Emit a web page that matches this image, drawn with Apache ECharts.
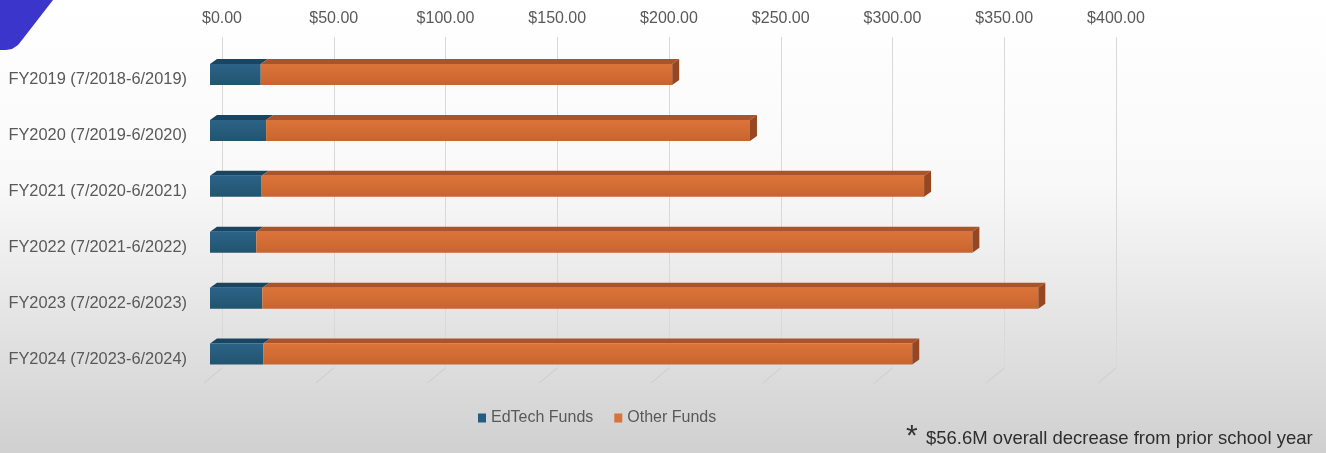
<!DOCTYPE html>
<html>
<head>
<meta charset="utf-8">
<script src="https://cdn.jsdelivr.net/npm/echarts@6/dist/echarts.min.js"></script>
<style>
  html, body { margin: 0; padding: 0; }
  #chart { width: 1326px; height: 453px; }
</style>
</head>
<body>
<div id="chart"></div>
<script>
  // data (millions of $)
  const categories = [
    'FY2019 (7/2018-6/2019)',
    'FY2020 (7/2019-6/2020)',
    'FY2021 (7/2020-6/2021)',
    'FY2022 (7/2021-6/2022)',
    'FY2023 (7/2022-6/2023)',
    'FY2024 (7/2023-6/2024)'
  ]
  const edtechFunds = [22.7, 25.1, 23.1, 20.7, 23.4, 23.8]
  const otherFunds = [184.1, 216.5, 296.4, 320.4, 347.2, 290.4]
  const xTicks = [0, 50, 100, 150, 200, 250, 300, 350, 400]
  const note = '$56.6M overall decrease from prior school year'

  const BAR_H = 21
  const DX = 7, DY = 5

  const edData = categories.map((c, i) => [0, edtechFunds[i], i])
  const otherData = categories.map((c, i) => [edtechFunds[i], edtechFunds[i] + otherFunds[i], i])

  // 3d box: front face, top face, right side face
  function boxItem(colors, withSide) {
    return function (params, api) {
      let p0 = api.coord([api.value(0), api.value(2)])
      let p1 = api.coord([api.value(1), api.value(2)])
      let x0 = p0[0], x1 = p1[0], y0 = p0[1] - BAR_H / 2, y1 = y0 + BAR_H
      let children = [
        {
          type: 'polygon',
          shape: {points: [[x0, y0], [x1, y0], [x1 + DX, y0 - DY], [x0 + DX, y0 - DY]]},
          style: {fill: colors.top}
        },
        {
          type: 'rect',
          shape: {x: x0, y: y0, width: x1 - x0, height: BAR_H},
          style: {
            fill: new echarts.graphic.LinearGradient(0, 0, 0, 1, [
              {offset: 0, color: colors.front[0]},
              {offset: 1, color: colors.front[1]}
            ])
          }
        }
      ]
      if (withSide) {
        children.push({
          type: 'polygon',
          shape: {points: [[x1, y0], [x1 + DX, y0 - DY], [x1 + DX, y1 - DY], [x1, y1]]},
          style: {fill: colors.side}
        })
      }
      return {type: 'group', children: children}
    }
  }

  let chart = echarts.init(document.getElementById('chart'))
  chart.setOption({
    backgroundColor: new echarts.graphic.LinearGradient(0, 0, 0, 1, [
      {offset: 0, color: '#ffffff'},
      {offset: 0.4, color: '#f9f9f9'},
      {offset: 1, color: '#d0d0d0'}
    ]),
    textStyle: {fontFamily: 'Liberation Sans, Arial, sans-serif'},
    animation: false,
    grid: [
      // back wall with the gridlines
      {left: 222, right: 210, top: 37, bottom: 85},
      // bars, sitting in front of the wall
      {left: 210, right: 222, top: 46.5, bottom: 71}
    ],
    xAxis: [
      {
        gridIndex: 0, type: 'value', position: 'top',
        min: 0, max: 400, interval: 50,
        axisLine: {show: false}, axisTick: {show: false},
        axisLabel: {
          margin: 10, fontSize: 16, color: '#595959',
          formatter: v => '$' + v.toFixed(2)
        },
        splitLine: {lineStyle: {color: '#d9d9d9', width: 1}}
      },
      {gridIndex: 1, type: 'value', min: 0, max: 400, show: false}
    ],
    yAxis: [
      {gridIndex: 0, type: 'value', min: 0, max: 1, show: false},
      {
        gridIndex: 1, type: 'category', inverse: true, data: categories,
        axisLine: {show: false}, axisTick: {show: false},
        axisLabel: {
          margin: 23, color: '#595959',
          formatter: v => '{a|' + v + '}',
          rich: {a: {fontSize: 16.4, color: '#595959', padding: [11, 0, 0, 0]}}
        }
      }
    ],
    legend: {
      data: ['EdTech Funds', 'Other Funds'],
      left: 473, top: 405,
      icon: 'rect', itemWidth: 8, itemHeight: 9, itemGap: 21,
      textStyle: {fontSize: 16, color: '#595959'}
    },
    series: [
      {
        // slanted floor part of the gridlines
        type: 'custom', xAxisIndex: 0, yAxisIndex: 0, silent: true,
        data: xTicks.map(v => [v]),
        renderItem: function (params, api) {
          let p = api.coord([api.value(0), 0])
          return {
            type: 'line',
            shape: {x1: p[0], y1: p[1], x2: p[0] - 18, y2: p[1] + 15},
            style: {stroke: '#cccccc', lineWidth: 1}
          }
        },
        z: 1
      },
      {
        name: 'EdTech Funds', type: 'custom', xAxisIndex: 1, yAxisIndex: 1,
        itemStyle: {color: '#255d7e'},
        encode: {x: [0, 1], y: 2},
        data: edData,
        renderItem: boxItem({front: ['#2b6387', '#22546f'], top: '#1a4560', side: '#173d55'}, false),
        z: 3
      },
      {
        name: 'Other Funds', type: 'custom', xAxisIndex: 1, yAxisIndex: 1,
        itemStyle: {color: '#d9733a'},
        encode: {x: [0, 1], y: 2},
        data: otherData,
        renderItem: boxItem({front: ['#dc743a', '#c7652e'], top: '#a9552b', side: '#964721'}, true),
        z: 4
      }
    ],
    graphic: [
      {
        // slide decoration in the corner
        type: 'polygon',
        shape: {points: [[0, 0], [53, 0], [22, 40], [18, 45], [12, 49], [6, 50], [0, 50]]},
        style: {fill: '#3b35cc'}
      },
      {
        type: 'text', left: 906, top: 422,
        style: {text: '*', font: '30px Liberation Sans, Arial, sans-serif', fill: '#333333'}
      },
      {
        type: 'text', left: 926, top: 429,
        style: {text: note, font: '18.5px Liberation Sans, Arial, sans-serif', fill: '#2e2e2e'}
      }
    ]
  })
</script>
</body>
</html>
